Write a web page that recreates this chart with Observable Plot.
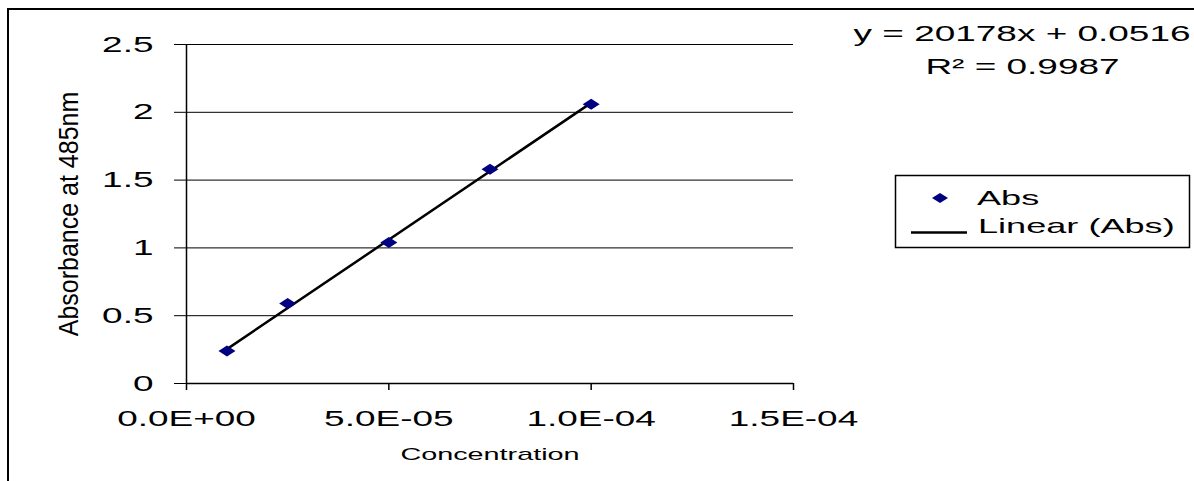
<!DOCTYPE html>
<html>
<head>
<meta charset="utf-8">
<script src="https://cdn.jsdelivr.net/npm/d3@7"></script>
<script src="https://cdn.jsdelivr.net/npm/@observablehq/plot@0.6"></script>
<style>
  html, body { margin: 0; padding: 0; background: #fff; }
  #wrap { position: relative; width: 1194px; height: 481px; overflow: hidden; font-family: "Liberation Sans", Arial, sans-serif; }
  #border { position: absolute; left: 7px; top: 8px; width: 1200px; height: 500px; border: 2px solid #000; box-sizing: border-box; }
  #chart { position: absolute; left: 0; top: 0; }
  #legend { position: absolute; left: 0; top: 0; pointer-events: none; }
</style>
</head>
<body>
<div id="wrap">
  <div id="border"></div>
  <div id="chart"></div>
  <svg id="legend" width="1194" height="481" font-family="Liberation Sans, Arial, sans-serif">
    <rect x="895.5" y="175.5" width="294" height="72" fill="#fff" stroke="#000" stroke-width="1.5"/>
    <path d="M940 193 L948 198 L940 203 L932 198 Z" fill="#000080"/>
    <text transform="translate(977,205) scale(1.72,1)" font-size="21" fill="#000">Abs</text>
    <line x1="911" y1="232.5" x2="967" y2="232.5" stroke="#000" stroke-width="2.5"/>
    <text transform="translate(978,233) scale(1.72,1)" font-size="21" fill="#000">Linear (Abs)</text>
  </svg>
</div>
<script>
const concentration = [1.0e-5, 2.5e-5, 5.0e-5, 7.5e-5, 1.0e-4];
const absorbance = [0.24, 0.59, 1.04, 1.58, 2.06];
const xTicks = [0, 5e-5, 1e-4, 1.5e-4];
const xTickLabels = ["0.0E+00", "5.0E-05", "1.0E-04", "1.5E-04"];
const yTicks = [0, 0.5, 1, 1.5, 2, 2.5];
const yTickLabels = ["0", "0.5", "1", "1.5", "2", "2.5"];
const slope = 20178;
const intercept = 0.0516;
const equationText = "y = 20178x + 0.0516";
const r2Text = "R\u00B2 = 0.9987";
const xLabel = "Concentration";
const yLabel = "Absorbance at 485nm";

const points = concentration.map((c, i) => ({x: c, y: absorbance[i]}));
const xMin = d3.min(concentration), xMax = d3.max(concentration);
const fit = [{x: xMin, y: slope * xMin + intercept}, {x: xMax, y: slope * xMax + intercept}];

const font = "Liberation Sans, Arial, sans-serif";
const flatDiamond = {
  draw(ctx) {
    ctx.moveTo(0, -5.5); ctx.lineTo(8.5, 0); ctx.lineTo(0, 5.5); ctx.lineTo(-8.5, 0); ctx.closePath();
  }
};

const chart = Plot.plot({
  width: 1194,
  height: 481,
  marginLeft: 186,
  marginRight: 401,
  marginTop: 44,
  marginBottom: 98,
  style: {fontFamily: font, background: "transparent", color: "#000"},
  x: {domain: [0, 1.5e-4]},
  y: {domain: [0, 2.5]},
  marks: [
    Plot.ruleY(yTicks, {stroke: "#000", strokeWidth: 1}),
    Plot.ruleX([0], {stroke: "#000", strokeWidth: 1.5}),
    Plot.ruleY([0], {stroke: "#000", strokeWidth: 1.5}),
    Plot.axisY({ticks: yTicks, tickFormat: (d) => yTickLabels[yTicks.indexOf(d)], tickSize: 12, tickPadding: 21, fontSize: 22, fontVariant: "normal", label: null, strokeWidth: 1}),
    Plot.axisX({ticks: xTicks, tickFormat: (d) => xTickLabels[xTicks.indexOf(d)], tickSize: 7, tickPadding: 20, fontSize: 22, fontVariant: "normal", label: null, strokeWidth: 1.5}),
    Plot.line(fit, {x: "x", y: "y", stroke: "#000", strokeWidth: 2.5}),
    Plot.dot(points, {x: "x", y: "y", symbol: flatDiamond, fill: "#000080", stroke: "none"}),
    Plot.text([xLabel], {frameAnchor: "bottom", lineAnchor: "middle", textAnchor: "middle", dy: 71, fontSize: 16, fill: "#000"}),
    Plot.text([yLabel], {frameAnchor: "left", lineAnchor: "middle", textAnchor: "middle", dx: -117, rotate: -90, fontSize: 25, fill: "#000"}),
    Plot.text([equationText], {frameAnchor: "top-right", lineAnchor: "middle", textAnchor: "end", dx: 397, dy: -11, fontSize: 22, fill: "#000"}),
    Plot.text([r2Text], {frameAnchor: "top-right", lineAnchor: "middle", textAnchor: "middle", dx: 229, dy: 22.5, fontSize: 22, fill: "#000"})
  ]
});

// Horizontal stretch of the text glyphs, as in the reference picture
chart.querySelectorAll("text").forEach((t) => {
  const tr = t.getAttribute("transform") || "";
  const txt = t.textContent;
  const s = txt === yLabel ? "scale(1,1.12)" : txt === xLabel ? "scale(1.8,1)" : "scale(1.68,1)";
  t.setAttribute("transform", (tr + " " + s).trim());
});
document.getElementById("chart").appendChild(chart);
</script>
</body>
</html>
